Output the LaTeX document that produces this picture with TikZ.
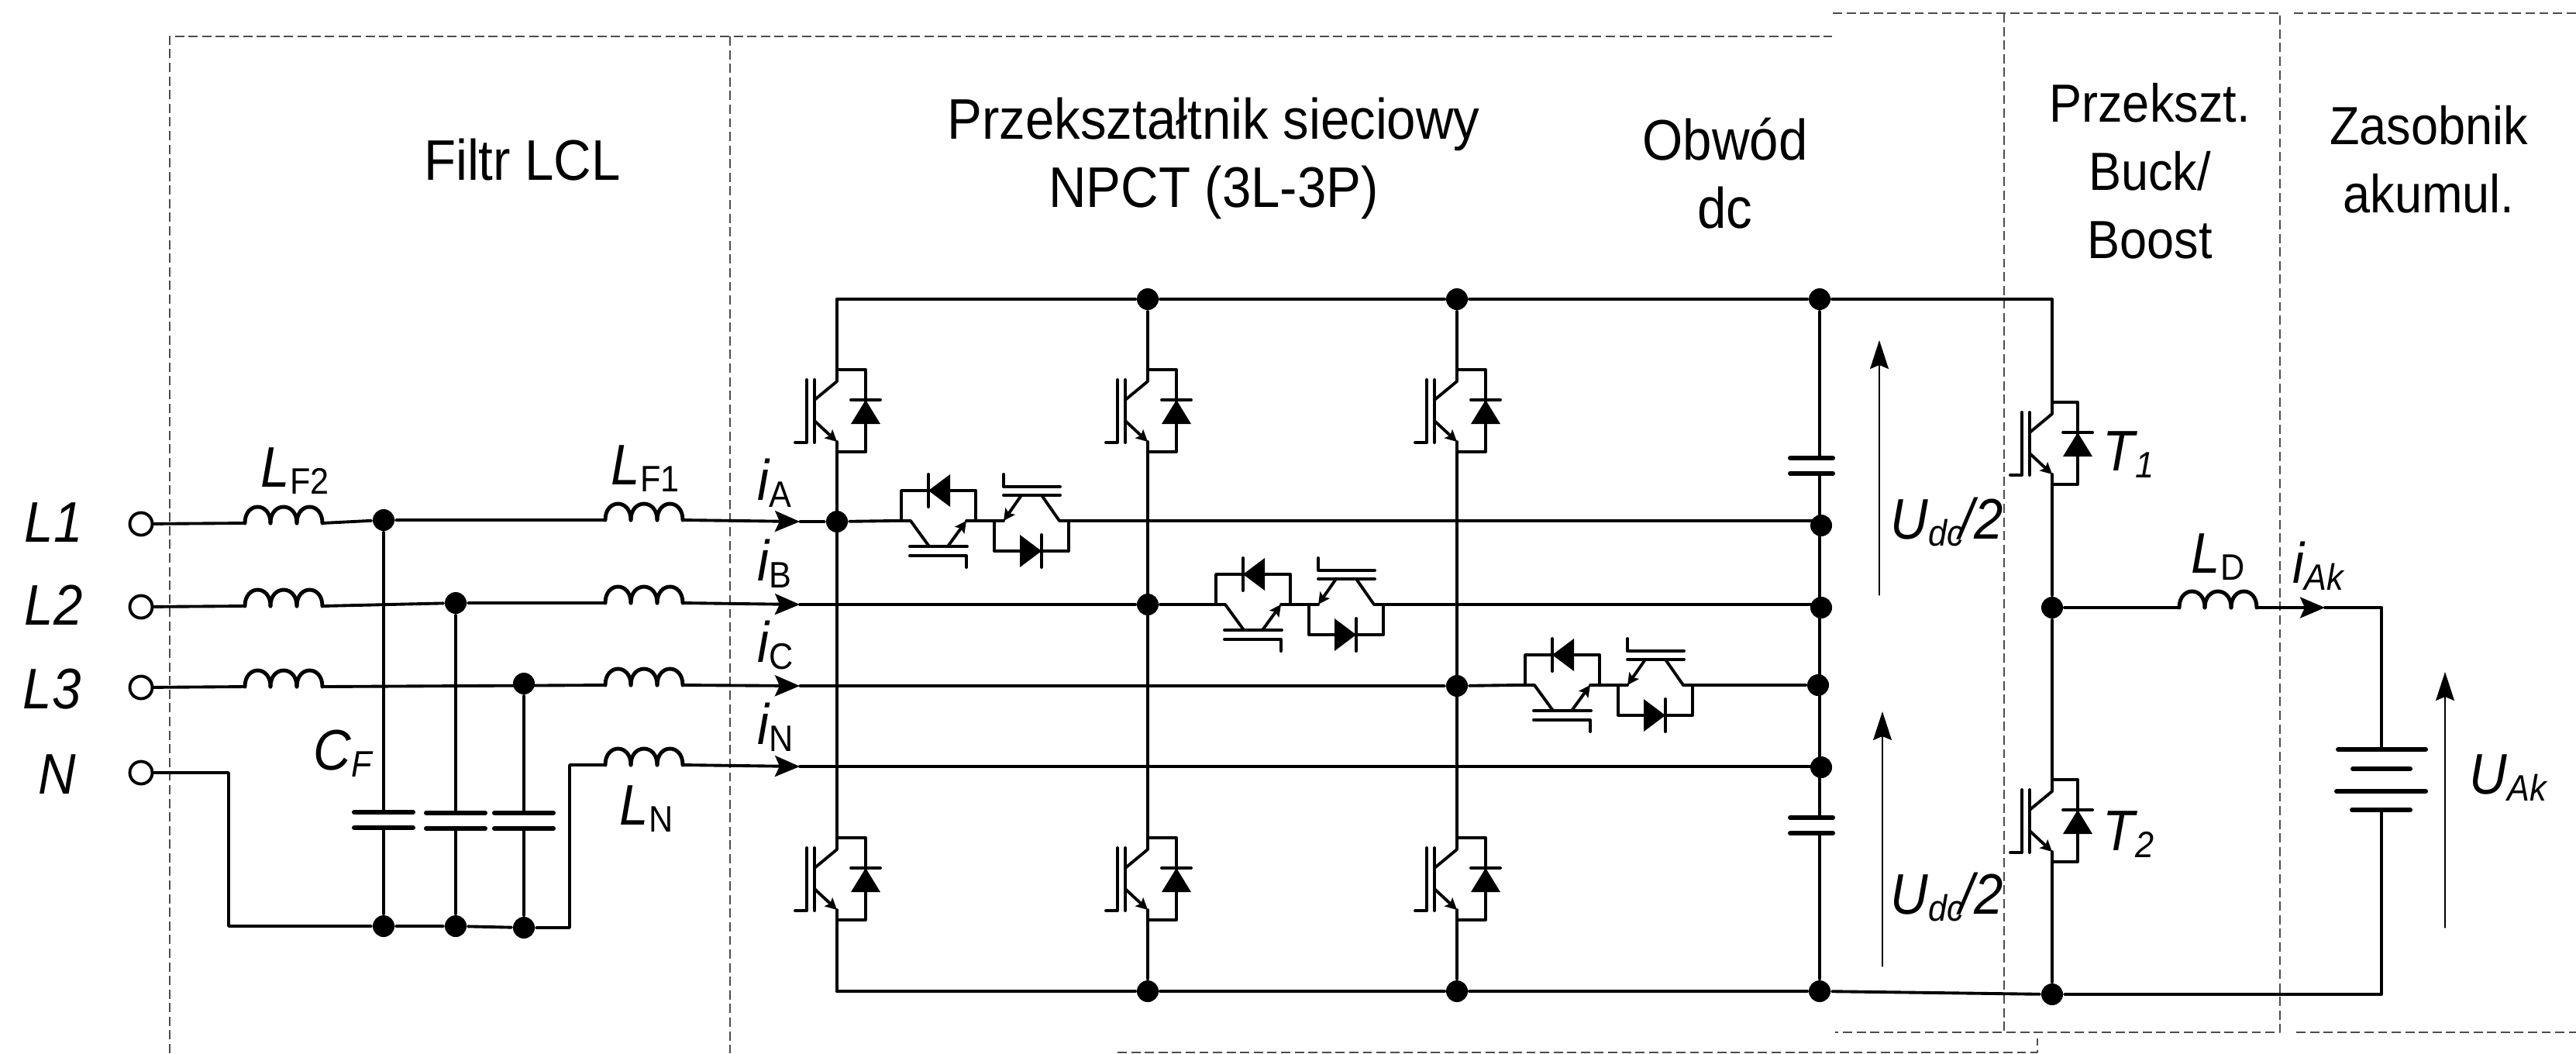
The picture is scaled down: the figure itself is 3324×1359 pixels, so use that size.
\documentclass[tikz,border=0pt]{standalone}
\usepackage{fontspec}
\setmainfont[FakeStretch=0.91]{Liberation Sans}
\usetikzlibrary{arrows.meta}
\definecolor{framegray}{gray}{0.3}
\newcommand{\biglab}{\fontsize{21}{25}\selectfont}
\newcommand{\lowtext}[2]{{\biglab\itshape #1}\raisebox{-.8pt}{\raisebox{-2pt}{\fontsize{13.5}{15}\selectfont #2}}}
\tikzset{
    pics/inductor/.style={code={
        \coordinate (-in) at (0,0);
        \coordinate (-out) at (100,0);
        \draw[line width=1.4pt] (0,0) .. controls (0,-28) and (33,-28) .. (33,0);
        \draw[line width=1.4pt] (33,0) .. controls (33,-28) and (67,-28) .. (67,0);
        \draw[line width=1.4pt] (67,0) .. controls (67,-28) and (100,-28) .. (100,0);
    }},
    pics/capplates/.style={code={
        \coordinate (-top) at (0,0);
        \coordinate (-bot) at (0,20);
        \draw[line width=1.7pt] (-38,0) -- (#1,0);
        \draw[line width=1.7pt] (-38,20) -- (#1,20);
    }},
    pics/igbtleg/.style={code={
        \coordinate (-c) at (0,0);
        \coordinate (-e) at (0,106);
        \draw (0,0) -- (0,15) -- (-29,39);
        \draw (-29,13) -- (-29,94);
        \draw (-39,13) -- (-39,94) -- (-54,94);
        \draw[-{Stealth[length=.15cm,width=.15cm,inset=.03cm]}] (-29,66) -- (0,93);
        \draw (0,93) -- (0,106);
        \draw (0,0) -- (#1,0) -- (#1,106) -- (0,106);
        \draw (#1-19,39) -- (#1+19,39);
        \fill (#1,39) -- (#1+19,70) -- (#1-19,70) -- cycle;
    }},
    pics/biswitch/.style={code={
        \coordinate (-in) at (0,0);
        \coordinate (-out) at (228,0);
        % left switch
        \draw (0,0) -- (24,0) -- (48,33);
        \draw (23,33) -- (97,33);
        \draw (23,45) -- (96,45) -- (96,60);
        \draw[-{Stealth[length=.15cm,width=.15cm,inset=.03cm]}] (72,33) -- (96,0);
        \draw (96,0) -- (144,0);
        \draw (12,0) -- (12,-39) -- (108,-39) -- (108,0);
        \draw (47,-60) -- (47,-18);
        \fill (47,-39) -- (75,-60) -- (75,-18) -- cycle;
        % right switch
        \draw[-{Stealth[length=.15cm,width=.15cm,inset=.03cm]}] (167,-33) -- (144,0);
        \draw (144,-33) -- (217,-33);
        \draw (144,-60) -- (144,-44) -- (217,-44);
        \draw (193,-33) -- (216,0) -- (228,0);
        \draw (132,0) -- (132,39) -- (228,39) -- (228,0);
        \draw (193,18) -- (193,60);
        \fill (193,39) -- (165,18) -- (165,60) -- cycle;
    }}
}
\begin{document}
\begin{tikzpicture}[
    x=0.01cm, y=-0.01cm,
    line width=1.1pt, line cap=round, line join=round,
    dot/.style={circle, fill=black, inner sep=0pt, minimum size=.28cm},
    terminal/.style={circle, draw, fill=white, inner sep=0pt, minimum size=.29cm},
    title/.style={align=center, font=\biglab, inner sep=0pt},
    narrowtitle/.style={align=center, font=\fontsize{19.7}{25}\selectfont, inner sep=0pt},
    lab/.style={anchor=base west, font=\biglab, inner sep=0pt},
    frame/.style={draw=framegray, line width=.35pt, line cap=butt, dash pattern=on 3.4pt off 1.6pt},
    current/.style={-{Stealth[length=.32cm,width=.27cm,inset=.06cm]}},
    voltage/.style={line width=.35pt, -{Stealth[length=.37cm,width=.24cm,inset=.05cm]}}
]
    \useasboundingbox (0,0) rectangle (3324,1359);

    % Frames
    \draw[frame] (219,1359) -- (219,47) -- (2364,47);
    \draw[frame] (942,47) -- (942,1359);
    \draw[frame] (2365,17) -- (2942,17) -- (2942,1332) -- (2368,1332);
    \draw[frame] (2960,17) -- (3324,17);
    \draw[frame] (2586,17) -- (2586,1332);
    \draw[frame] (2963,1332) -- (3324,1332);
    \draw[frame] (1442,1358) -- (2629,1358) -- (2629,1340);

    % Titles
    \node[title] (tfilter) at (674,206) {Filtr LCL};
    \node[title] (tnpct) at (1566,204) {Przekształtnik sieciowy\\NPCT (3L-3P)};
    \node[title] (tdc) at (2226,224) {Obwód\\dc};
    \node[narrowtitle] (tbuck) at (2774,221) {Przekszt.\\Buck/\\Boost};
    \node[narrowtitle] (takum) at (3134,206) {Zasobnik\\akumul.};

    % Terminals
    \node[terminal] (tL1) at (182,676) {};
    \node[terminal] (tL2) at (182,783) {};
    \node[terminal] (tL3) at (182,887) {};
    \node[terminal] (tN) at (182,997) {};
    \node[lab] (nL1) at (30,699) {\itshape L1};
    \node[lab] (nL2) at (30,806) {\itshape L2};
    \node[lab] (nL3) at (28,914) {\itshape L3};
    \node[lab] (nN) at (48,1024) {\itshape N};

    % Filter
    \pic (lfa) at (316,675) {inductor};
    \pic (lfb) at (316,782) {inductor};
    \pic (lfc) at (316,886) {inductor};
    \pic (lga) at (781,671) {inductor};
    \pic (lgb) at (781,778) {inductor};
    \pic (lgc) at (781,884) {inductor};
    \pic (lgn) at (781,987) {inductor};
    \node[dot] (fa) at (495,671) {};
    \node[dot] (fb) at (588,778) {};
    \node[dot] (fc) at (676,882) {};
    \node[dot] (ga) at (495,1195) {};
    \node[dot] (gb) at (588,1195) {};
    \node[dot] (gc) at (676,1197) {};
    \pic (ca) at (495,1048) {capplates=38};
    \pic (cb) at (588,1049) {capplates=38};
    \pic (cc) at (676,1049) {capplates=38};
    \coordinate (nbend) at (295,997);
    \coordinate (nfoot) at (295,1195);
    \coordinate (rfoot) at (735,1197);
    \coordinate (rtop) at (735,987);
    \draw (tL1) -- (lfa-in);
    \draw (tL2) -- (lfb-in);
    \draw (tL3) -- (lfc-in);
    \draw (tN) -- (nbend) -- (nfoot) -- (ga) -- (gb) -- (gc) -- (rfoot) -- (rtop) -- (lgn-in);
    \draw (lfa-out) -- (fa) -- (lga-in);
    \draw (lfb-out) -- (fb) -- (lgb-in);
    \draw (lfc-out) -- (lgc-in);
    \draw (fa) -- (ca-top);
    \draw (fb) -- (cb-top);
    \draw (fc) -- (cc-top);
    \draw (ca-bot) -- (ga);
    \draw (cb-bot) -- (gb);
    \draw (cc-bot) -- (gc);
    \node[lab] (nLF2) at (335,628) {\lowtext{L}{F2}};
    \node[lab] (nLF1) at (787,625) {\lowtext{L}{F1}};
    \node[lab] (nCF) at (403,993) {\lowtext{C}{\itshape F}};
    \node[lab] (nLN) at (798,1064) {\lowtext{L}{N}};

    % Phase currents
    \coordinate (ta) at (1032,673);
    \coordinate (tb) at (1032,780);
    \coordinate (tc) at (1032,885);
    \coordinate (tn) at (1032,989);
    \draw[current] (lga-out) -- (ta);
    \draw[current] (lgb-out) -- (tb);
    \draw[current] (lgc-out) -- (tc);
    \draw[current] (lgn-out) -- (tn);
    \node[lab] (nia) at (976,645) {\lowtext{i}{A}};
    \node[lab] (nib) at (976,749) {\lowtext{i}{B}};
    \node[lab] (nic) at (976,854) {\lowtext{i}{C}};
    \node[lab] (nin) at (976,960) {\lowtext{i}{N}};

    % Converter legs
    \node[dot] (pb) at (1481,386) {};
    \node[dot] (pc) at (1880,386) {};
    \node[dot] (pd) at (2348,386) {};
    \node[dot] (qb) at (1481,1279) {};
    \node[dot] (qc) at (1880,1279) {};
    \node[dot] (qd) at (2348,1279) {};
    \coordinate (pa) at (1080,386);
    \coordinate (qa) at (1080,1279);
    \pic (ua) at (1080,477) {igbtleg=37};
    \pic (ub) at (1481,477) {igbtleg=37};
    \pic (uc) at (1880,477) {igbtleg=37};
    \pic (va) at (1080,1081) {igbtleg=37};
    \pic (vb) at (1481,1081) {igbtleg=37};
    \pic (vc) at (1880,1081) {igbtleg=37};
    \draw (pa) -- (pb) -- (pc) -- (pd);
    \draw (qa) -- (qb) -- (qc) -- (qd);
    \draw (pa) -- (ua-c);
    \draw (pb) -- (ub-c);
    \draw (pc) -- (uc-c);
    \draw (ua-e) -- (va-c);
    \draw (ub-e) -- (vb-c);
    \draw (uc-e) -- (vc-c);
    \draw (va-e) -- (qa);
    \draw (vb-e) -- (qb);
    \draw (vc-e) -- (qc);

    % Neutral point switches
    \node[dot] (ma) at (1080,673) {};
    \node[dot] (mb) at (1481,780) {};
    \node[dot] (mc) at (1880,885) {};
    \pic (sa) at (1151,672) {biswitch};
    \pic (sb) at (1557,780) {biswitch};
    \pic (sc) at (1956,884) {biswitch};
    \node[dot] (da) at (2350,678) {};
    \node[dot] (db) at (2350,784) {};
    \node[dot] (dc) at (2346,884) {};
    \node[dot] (dn) at (2350,990) {};
    \draw (ta) -- (ma) -- (sa-in);
    \draw (sa-out) -- (sa-out -| da);
    \draw (tb) -- (mb) -- (sb-in);
    \draw (sb-out) -- (sb-out -| db);
    \draw (tc) -- (mc) -- (sc-in);
    \draw (sc-out) -- (dc);
    \draw (tn) -- (tn -| dn);

    % DC link
    \pic (cu) at (2348,591) {capplates=17};
    \pic (cl) at (2348,1055) {capplates=17};
    \draw (pd) -- (cu-top);
    \draw (cu-bot) -- (cl-top);
    \draw (cl-bot) -- (qd);
    \coordinate (vua) at (2425,768);
    \coordinate (vub) at (2425,439);
    \coordinate (vla) at (2429,1247);
    \coordinate (vlb) at (2429,918);
    \draw[voltage] (vua) -- (vub);
    \draw[voltage] (vla) -- (vlb);
    \node[lab] (nuu) at (2438,695) {\lowtext{U}{\itshape dc}\kern-1.5pt{\biglab\itshape /2}};
    \node[lab] (nul) at (2438,1179) {\lowtext{U}{\itshape dc}\kern-1.5pt{\biglab\itshape /2}};

    % Buck/Boost
    \node[dot] (bm) at (2648,784) {};
    \node[dot] (bq) at (2648,1283) {};
    \coordinate (bp) at (2648,386);
    \coordinate (rb) at (3073,1283);
    \coordinate (rt) at (3073,784);
    \pic (t1) at (2648,519) {igbtleg=33};
    \pic (t2) at (2648,1006) {igbtleg=33};
    \pic (ld) at (2812,784) {inductor};
    \coordinate (tak) at (3000,784);
    \draw (pd) -- (bp) -- (t1-c);
    \draw (t1-e) -- (bm) -- (t2-c);
    \draw (t2-e) -- (bq);
    \draw (qd) -- (bq) -- (rb);
    \draw (bm) -- (ld-in);
    \draw[current] (ld-out) -- (tak);
    \node[lab] (nT1) at (2712,607) {\lowtext{T}{\itshape 1}};
    \node[lab] (nT2) at (2712,1097) {\lowtext{T}{\itshape 2}};
    \node[lab] (nLD) at (2826,739) {\lowtext{L}{D}};
    \node[lab] (niAk) at (2957,752) {\lowtext{i}{\itshape Ak}};

    % Battery
    \coordinate (bata) at (3073,967);
    \coordinate (batb) at (3073,1045);
    \draw[line width=1.7pt] (3017,967) -- (3130,967);
    \draw[line width=1.7pt] (3036,992) -- (3110,992);
    \draw[line width=1.7pt] (3015,1021) -- (3130,1021);
    \draw[line width=1.7pt] (3035,1045) -- (3110,1045);
    \draw (tak) -- (rt) -- (bata);
    \draw (batb) -- (rb);
    \coordinate (vba) at (3155,1197);
    \coordinate (vbb) at (3155,867);
    \draw[voltage] (vba) -- (vbb);
    \node[lab] (nUAk) at (3185,1024) {\lowtext{U}{\itshape Ak}};
\end{tikzpicture}
\end{document}
